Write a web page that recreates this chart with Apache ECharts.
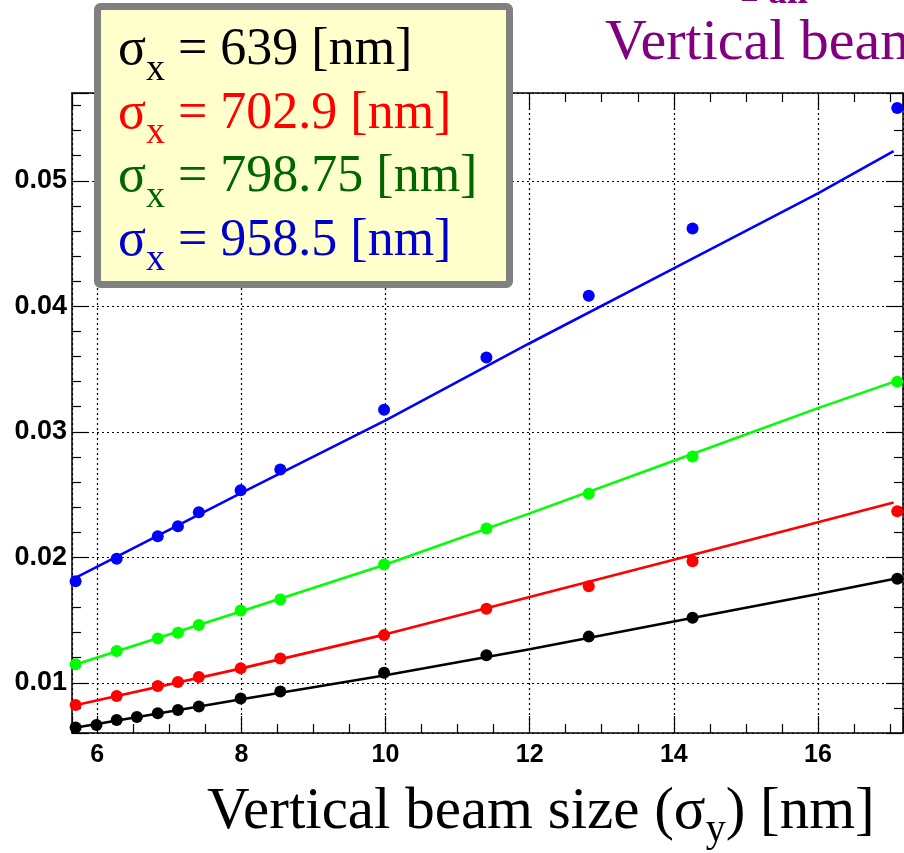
<!DOCTYPE html>
<html>
<head>
<meta charset="utf-8" />
<title>Vertical beam size</title>
<script src="https://cdn.jsdelivr.net/npm/echarts@6/dist/echarts.min.js"></script>
<style>
  html, body { margin: 0; padding: 0; background: #fff; }
  #chart { width: 904px; height: 853px; }
</style>
</head>
<body>
<div id="chart"></div>
<script>
// sigma_y of the measured points [nm]
var xBlack = [5.70, 5.99, 6.27, 6.55, 6.84, 7.12, 7.41, 7.99, 8.54, 9.98, 11.40, 12.82, 14.26, 17.10];
var xColour = [5.70, 6.27, 6.84, 7.12, 7.41, 7.99, 8.54, 9.98, 11.40, 12.82, 14.26, 17.10];

var yBlack = [0.00644, 0.00664, 0.00704, 0.00728, 0.00757, 0.00784, 0.00811, 0.00874, 0.0093, 0.01081, 0.01219, 0.01368, 0.01519, 0.01829];
var yRed   = [0.00823, 0.00895, 0.00975, 0.01006, 0.01046, 0.01115, 0.01193, 0.0138, 0.0159, 0.0177, 0.01969, 0.02367];
var yGreen = [0.01147, 0.01253, 0.01354, 0.01399, 0.0146, 0.01577, 0.01664, 0.01943, 0.02229, 0.02507, 0.02804, 0.034];
var yBlue  = [0.0181, 0.01988, 0.02168, 0.02247, 0.02359, 0.02534, 0.02699, 0.03176, 0.03592, 0.04085, 0.04621, 0.05581];

// fitted curves, read at a few sigma_y positions
var xFit = [5.71, 8, 10, 12, 14, 16, 17.05];
var fitBlack = [0.00644, 0.00869, 0.0106, 0.01268, 0.01488, 0.01708, 0.01827];
var fitRed   = [0.00823, 0.01115, 0.01386, 0.01683, 0.01981, 0.0228, 0.02436];
var fitGreen = [0.01147, 0.01571, 0.01943, 0.0235, 0.0277, 0.03189, 0.03398];
var fitBlue  = [0.0184, 0.02513, 0.03091, 0.03706, 0.04303, 0.049, 0.05236];

var legendValues = ['639', '702.9', '798.75', '958.5'];
var legendColours = ['#000000', '#ff0000', '#006600', '#0000cc'];
var markColours = ['#000000', '#ff0000', '#00ff00', '#0000ff'];

function pairs(xs, ys) {
  var out = [];
  for (var i = 0; i < xs.length; i++) out.push([xs[i], ys[i]]);
  return out;
}

var serif = '"Liberation Serif", "DejaVu Serif", serif';
var sans = '"Liberation Sans", Arial, sans-serif';

var measureCtx = document.createElement('canvas').getContext('2d');
function fontOf(p) {
  return (p.weight || 'normal') + ' ' + p.size + 'px ' + serif;
}

// lay out a run of text pieces on one baseline (pieces can be shifted by dy)
function textRun(list, x, baseline, pieces, colour) {
  for (var i = 0; i < pieces.length; i++) {
    var p = pieces[i];
    list.push({
      type: 'text',
      z: 11,
      x: x,
      y: baseline + (p.dy || 0) - 0.35 * p.size,
      style: {
        text: p.text,
        font: fontOf(p),
        fill: colour,
        verticalAlign: 'middle',
        align: 'left'
      }
    });
    measureCtx.font = fontOf(p);
    x += measureCtx.measureText(p.text).width;
  }
}

function frameAxis(pos, isX, main) {
  return {
    type: 'value',
    position: pos,
    min: isX ? 5.65 : 0.006,
    max: isX ? 17.18 : 0.057,
    splitNumber: 5,
    axisLine: { show: true, onZero: false, lineStyle: { color: '#000', width: 1.5 } },
    axisTick: { show: true, inside: true, length: 17, lineStyle: { color: '#000', width: 1.2 } },
    minorTick: { show: true, splitNumber: isX ? 4 : 5, length: 9, lineStyle: { color: '#000', width: 1.2 } },
    splitLine: { show: main, lineStyle: { color: '#000', type: [2, 3], width: 1.2 } },
    axisLabel: {
      show: main,
      showMinLabel: false,
      showMaxLabel: false,
      color: '#000',
      fontFamily: sans,
      fontWeight: 'bold',
      fontSize: isX ? 25 : 27,
      margin: isX ? 10 : 5
    }
  };
}

var graphics = [{
  type: 'rect',
  z: 10,
  shape: { x: 97.5, y: 6.5, width: 412, height: 278, r: 3 },
  style: { fill: '#ffffcc', stroke: '#808080', lineWidth: 7 }
}];

for (var i = 0; i < legendValues.length; i++) {
  textRun(graphics, 118, 69 + i * 63.5, [
    { text: 'σ', size: 52 },
    { text: 'x', size: 38, dy: 14 },
    { text: ' = ' + legendValues[i] + ' [nm]', size: 52 }
  ], legendColours[i]);
}

textRun(graphics, 605, 64, [{ text: 'Vertical beam', size: 58 }], '#800080');
textRun(graphics, 741, 5, [
  { text: 'P', size: 44, weight: 'bold' },
  { text: 'all', size: 38, weight: 'bold', dy: 1 }
], '#800080');
textRun(graphics, 207, 833, [
  { text: 'Vertical beam size (σ', size: 59 },
  { text: 'y', size: 40, dy: 11 },
  { text: ') [nm]', size: 59 }
], '#000000');

var series = [];
var fits = [fitBlack, fitRed, fitGreen, fitBlue];
var pts = [pairs(xBlack, yBlack), pairs(xColour, yRed), pairs(xColour, yGreen), pairs(xColour, yBlue)];
for (var k = 0; k < 4; k++) {
  series.push({
    type: 'line',
    data: pairs(xFit, fits[k]),
    showSymbol: false,
    z: 2,
    lineStyle: { color: markColours[k], width: 2.6 },
    itemStyle: { color: markColours[k] }
  });
}
for (var k = 0; k < 4; k++) {
  series.push({
    type: 'scatter',
    data: pts[k],
    symbol: 'circle',
    symbolSize: 12,
    z: 3,
    itemStyle: { color: markColours[k], opacity: 1 }
  });
}

var chart = echarts.init(document.getElementById('chart'));
chart.setOption({
  animation: false,
  backgroundColor: '#ffffff',
  grid: { left: 72, right: 1, top: 93, bottom: 120 },
  xAxis: [frameAxis('bottom', true, true), frameAxis('top', true, false)],
  yAxis: [frameAxis('left', false, true), frameAxis('right', false, false)],
  series: series,
  graphic: graphics
});
</script>
</body>
</html>
